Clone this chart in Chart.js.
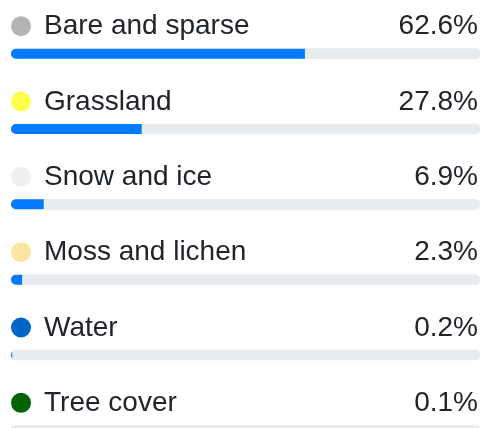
<!DOCTYPE html>
<html>
<head>
<meta charset="utf-8">
<script src="https://cdn.jsdelivr.net/npm/chart.js@4"></script>
<style>
  html, body { margin: 0; padding: 0; background: #fff; overflow: hidden; }
  #wrap { width: 482px; height: 470px; position: relative; }
</style>
</head>
<body>
<div id="wrap"><canvas id="c"></canvas></div>
<script>
const categories = ["Bare and sparse", "Grassland", "Snow and ice", "Moss and lichen", "Water", "Tree cover"];
const shares = [62.6, 27.8, 6.9, 2.3, 0.2, 0.1];
const dotColors = ["#b4b4b4", "#ffff4c", "#f0f0f0", "#fae6a0", "#0064c8", "#006400"];
const trackValues = [100, 100, 100, 100, 100, 100];

const TRACK_RADIUS = 5;

// Clip the value bars to the rounded track shape (like an overflow-hidden progress track)
const clipToTrack = {
  id: 'clipToTrack',
  beforeDatasetDraw(chart, args) {
    if (args.index !== 0) return;
    const ctx = chart.ctx;
    const meta = chart.getDatasetMeta(1);
    ctx.save();
    ctx.beginPath();
    meta.data.forEach(el => {
      const p = el.getProps(['x', 'y', 'base', 'height'], true);
      const left = Math.min(p.x, p.base);
      const w = Math.abs(p.x - p.base);
      ctx.roundRect(left, p.y - p.height / 2, w, p.height, TRACK_RADIUS);
    });
    ctx.clip();
  },
  afterDatasetDraw(chart, args) {
    if (args.index !== 0) return;
    chart.ctx.restore();
  }
};

const rowText = {
  id: 'rowText',
  afterDatasetsDraw(chart) {
    const ctx = chart.ctx;
    const y = chart.scales.y;
    ctx.save();
    categories.forEach((cat, i) => {
      const cy = y.getPixelForValue(i);
      ctx.beginPath();
      ctx.arc(21, cy - 27.5, 10, 0, Math.PI * 2);
      ctx.fillStyle = dotColors[i];
      ctx.fill();
      ctx.fillStyle = '#212529';
      ctx.font = '28px "Liberation Sans", Arial, sans-serif';
      ctx.textBaseline = 'alphabetic';
      ctx.textAlign = 'left';
      ctx.fillText(cat, 44, cy - 19.5);
      ctx.textAlign = 'right';
      ctx.fillText(shares[i].toFixed(1) + '%', 478, cy - 19.5);
    });
    ctx.restore();
  }
};

new Chart(document.getElementById('c'), {
  type: 'bar',
  data: {
    labels: categories,
    datasets: [
      {
        data: shares,
        backgroundColor: '#007bff',
        barThickness: 10,
        borderSkipped: false,
        borderRadius: 0,
        order: 0
      },
      {
        data: trackValues,
        backgroundColor: '#e9ecef',
        barThickness: 10,
        borderSkipped: false,
        borderRadius: TRACK_RADIUS,
        order: 1
      }
    ]
  },
  options: {
    indexAxis: 'y',
    responsive: true,
    maintainAspectRatio: false,
    animation: false,
    events: [],
    layout: { padding: { left: 11, right: 2, top: 16, bottom: 2 } },
    datasets: { bar: { grouped: false } },
    plugins: { legend: { display: false }, tooltip: { enabled: false } },
    scales: {
      x: { display: false, min: 0, max: 100 },
      y: { display: false }
    }
  },
  plugins: [clipToTrack, rowText]
});
</script>
</body>
</html>
